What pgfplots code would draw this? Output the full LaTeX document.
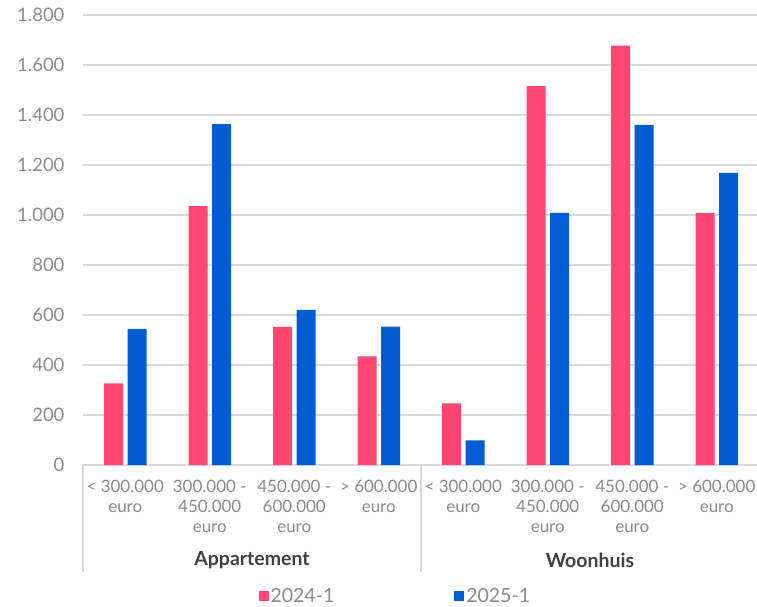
\documentclass[border=0pt]{standalone}
\usepackage{fontspec}
\setmainfont{Lato}
\usepackage{pgfplots}
\pgfplotsset{compat=1.18}
\definecolor{pinkc}{HTML}{FF4670}
\definecolor{bluec}{HTML}{005CD2}
\definecolor{gridc}{HTML}{D9D9D9}
\definecolor{tickc}{HTML}{8A8A8A}
\definecolor{grpc}{HTML}{404040}
\begin{document}
\begin{tikzpicture}[x=1pt,y=1pt]
\useasboundingbox (0,0) rectangle (757,606);
\begin{axis}[
  at={(83pt,141pt)}, anchor=south west,
  scale only axis, width=676pt, height=450pt,
  ybar, bar width=19pt, ybar=4.5pt,
  xmin=-0.5, xmax=7.5, ymin=0, ymax=1800,
  ytick={0,200,...,1800},
  xtick={0,...,7},
  xticklabels={{< 300.000\\euro},{300.000 -\\450.000\\euro},{450.000 -\\600.000\\euro},{> 600.000\\euro},{< 300.000\\euro},{300.000 -\\450.000\\euro},{450.000 -\\600.000\\euro},{> 600.000\\euro}},
  x tick label style={align=center, font=\fontsize{17}{20}\selectfont, text=tickc, yshift=-12pt},
  y tick label style={font=\fontsize{18.5}{20}\selectfont, text=tickc, xshift=-15pt},
  /pgf/number format/assume math mode=true,
  /pgf/number format/.cd, 1000 sep={.}, /pgfplots/.cd,
  ymajorgrids, grid style={gridc, line width=1.3pt},
  axis line style={draw=none},
  major tick length=0,
  clip=false,
  legend style={at={(0.462,-0.2915)}, anchor=center, draw=none, legend columns=2,
    font=\fontsize{19.5}{20}\selectfont, text=tickc, inner sep=0pt,
    nodes={inner xsep=2pt, inner ysep=0pt},
    /tikz/every even column/.append style={column sep=118pt}},
  legend image code/.code={\fill[#1] (0pt,-5pt) rectangle (10pt,5pt);},
]
\addplot[fill=pinkc, draw=none] coordinates {(0,327) (1,1036) (2,553) (3,435) (4,247) (5,1515) (6,1677) (7,1008)};
\addplot[fill=bluec, draw=none] coordinates {(0,545) (1,1364) (2,621) (3,554) (4,99) (5,1009) (6,1361) (7,1169)};
\legend{2024-1,2025-1}
\draw[gridc, line width=1.2pt] (rel axis cs:0,0) -- ([yshift=-107pt]rel axis cs:0,0);
\draw[gridc, line width=1.2pt] (rel axis cs:0.5,0) -- ([yshift=-107pt]rel axis cs:0.5,0);
\node[font=\bfseries\fontsize{19.5}{20}\selectfont, text=grpc] at ([yshift=-95pt]rel axis cs:0.25,0) {Appartement};
\node[font=\bfseries\fontsize{19.5}{20}\selectfont, text=grpc] at ([yshift=-95pt]rel axis cs:0.75,0) {Woonhuis};
\end{axis}
\end{tikzpicture}
\end{document}
